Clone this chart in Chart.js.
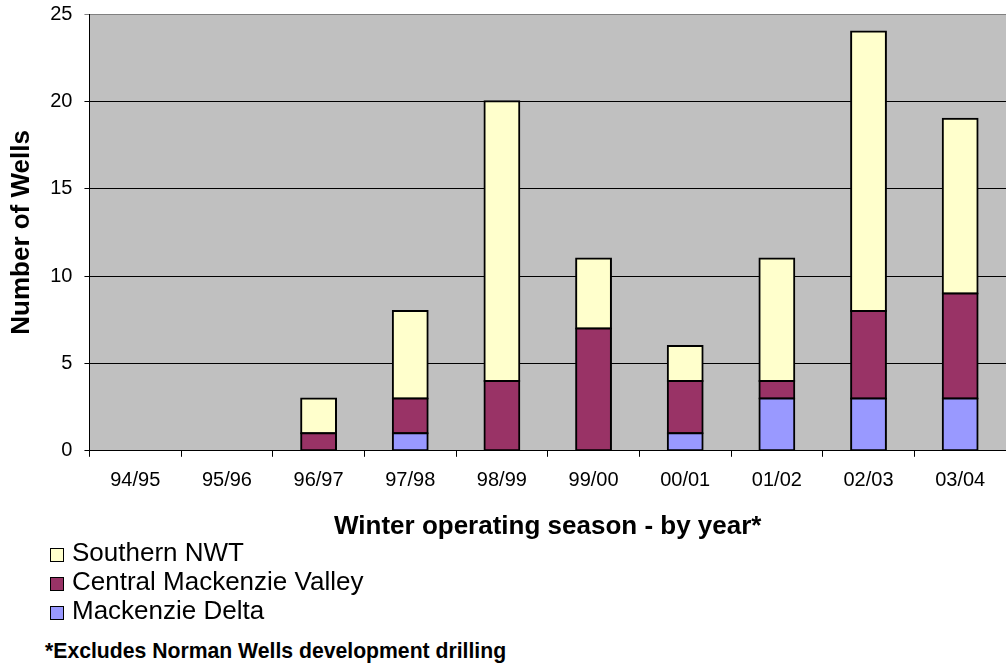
<!DOCTYPE html>
<html>
<head>
<meta charset="utf-8">
<script src="https://cdn.jsdelivr.net/npm/chart.js@4"></script>
<style>
  body { margin: 0; background: #fff; font-family: "Liberation Sans", Arial, sans-serif; }
  #wrap { position: relative; width: 1006px; height: 667px; overflow: hidden; }
  #myChart { position: absolute; left: 0; top: -10px; }
  #legend { position: absolute; left: 50px; top: 538px; }
  .item { height: 29px; line-height: 29px; font-size: 26px; color: #000; white-space: nowrap; }
  .box { display: inline-block; width: 12px; height: 12px; border: 1.5px solid #000; margin-right: 8px; vertical-align: -1px; }
  #note { position: absolute; left: 45px; top: 639px; font-size: 21.2px; font-weight: bold; color: #000; white-space: nowrap; }
</style>
</head>
<body>
<div id="wrap">
  <canvas id="myChart" width="1006" height="554"></canvas>
  <div id="legend"></div>
  <div id="note">*Excludes Norman Wells development drilling</div>
</div>
<script>
const seasons = ['94/95', '95/96', '96/97', '97/98', '98/99', '99/00', '00/01', '01/02', '02/03', '03/04'];
const mackenzieDelta = [0, 0, 0, 1, 0, 0, 1, 3, 3, 3];
const centralValley = [0, 0, 1, 2, 4, 7, 3, 1, 5, 6];
const southernNWT = [0, 0, 2, 5, 16, 4, 2, 7, 16, 10];

const font = '"Liberation Sans", Arial, sans-serif';

document.addEventListener('DOMContentLoaded', function() {
  const ctx = document.getElementById('myChart').getContext('2d');

  // grey plot area behind the bars
  const plotBg = {
    id: 'plotBg',
    beforeDraw(chart) {
      const a = chart.chartArea;
      const c = chart.ctx;
      c.save();
      c.fillStyle = '#C0C0C0';
      c.fillRect(a.left, a.top, a.right - a.left, a.bottom - a.top);
      c.restore();
    }
  };

  // empty segments get no outline; others overlap their neighbours by 1px
  const edge = function(c) { return c.raw === 0 ? 0 : 2; };
  const grow = function(c) { return c.raw === 0 ? 0 : 1; };

  const chart = new Chart(ctx, {
    type: 'bar',
    data: {
      labels: seasons,
      datasets: [
        { label: 'Mackenzie Delta', data: mackenzieDelta, backgroundColor: '#9999FF' },
        { label: 'Central Mackenzie Valley', data: centralValley, backgroundColor: '#993366' },
        { label: 'Southern NWT', data: southernNWT, backgroundColor: '#FFFFCC' }
      ].map(function(d) {
        return Object.assign(d, {
          borderColor: '#000', borderWidth: edge, borderSkipped: false,
          inflateAmount: grow, barPercentage: 0.38, categoryPercentage: 1
        });
      })
    },
    options: {
      responsive: false,
      animation: false,
      layout: { padding: { top: 4, left: 6, right: 0, bottom: 0 } },
      plugins: {
        legend: { display: false },
        tooltip: { enabled: false }
      },
      scales: {
        x: {
          stacked: true,
          border: { color: '#000', width: 1 },
          grid: { drawOnChartArea: false, color: '#000', tickLength: 6 },
          ticks: { color: '#000', padding: 12, font: { family: font, size: 20 }, maxRotation: 0 },
          title: {
            display: true, text: 'Winter operating season - by year*', color: '#000',
            font: { family: font, size: 26, weight: 'bold' }, padding: { top: 6, bottom: 2 }
          }
        },
        y: {
          stacked: true,
          min: 0, max: 25,
          border: { color: '#000', width: 1 },
          grid: {
            color: function(c) { return c.tick && c.tick.value === 25 ? '#808080' : '#000'; },
            tickLength: 5
          },
          ticks: { stepSize: 5, color: '#000', padding: 12, font: { family: font, size: 20 } },
          title: {
            display: true, text: 'Number of Wells', color: '#000',
            font: { family: font, size: 26, weight: 'bold' }, padding: { top: 0, bottom: 1 }
          }
        }
      }
    },
    plugins: [plotBg]
  });

  const legend = document.getElementById('legend');
  chart.data.datasets.slice().reverse().forEach(function(d) {
    const row = document.createElement('div');
    row.className = 'item';
    const box = document.createElement('span');
    box.className = 'box';
    box.style.background = d.backgroundColor;
    row.appendChild(box);
    row.appendChild(document.createTextNode(d.label));
    legend.appendChild(row);
  });
});
</script>
</body>
</html>
